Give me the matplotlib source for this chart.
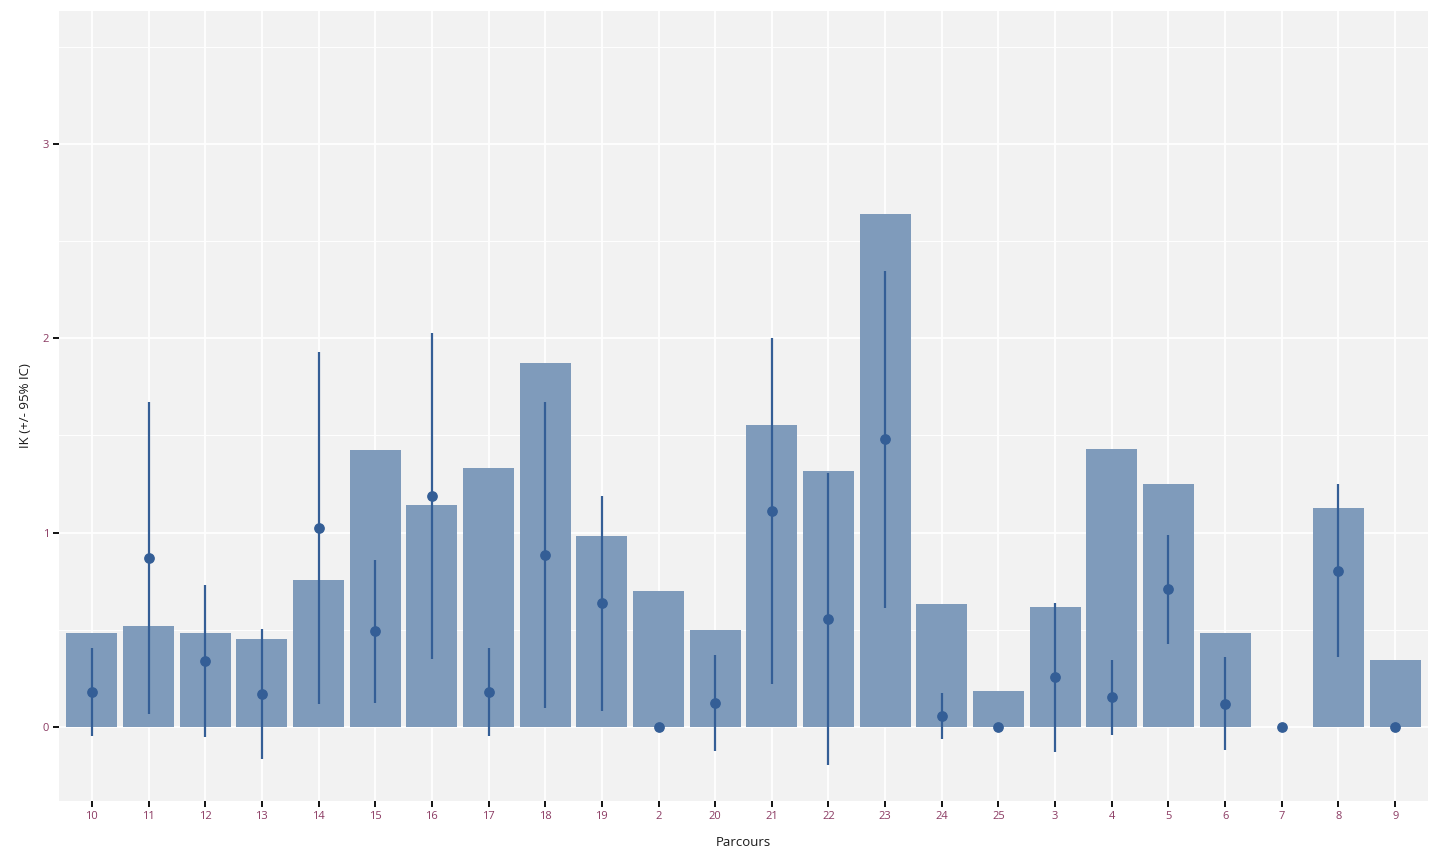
import matplotlib
matplotlib.use("Agg")
import matplotlib.pyplot as plt
import numpy as np
from matplotlib.ticker import MultipleLocator

categories = ["10", "11", "12", "13", "14", "15", "16", "17", "18", "19", "2", "20",
              "21", "22", "23", "24", "25", "3", "4", "5", "6", "7", "8", "9"]
bar_values = [0.484, 0.519, 0.484, 0.453, 0.755, 1.425, 1.142, 1.333, 1.873, 0.983, 0.698, 0.498,
              1.554, 1.318, 2.637, 0.633, 0.184, 0.617, 1.431, 1.251, 0.483, 0.0, 1.127, 0.344]
ik_values = [0.18, 0.871, 0.341, 0.171, 1.024, 0.496, 1.189, 0.18, 0.885, 0.640, 0.0, 0.124,
             1.112, 0.556, 1.483, 0.058, 0.0, 0.258, 0.155, 0.710, 0.117, 0.0, 0.804, 0.0]
ci_low = [-0.045, 0.068, -0.053, -0.163, 0.120, 0.125, 0.352, -0.045, 0.099, 0.084, 0.0, -0.124,
          0.223, -0.195, 0.614, -0.062, 0.0, -0.129, -0.041, 0.428, -0.119, 0.0, 0.359, 0.0]
ci_high = [0.405, 1.672, 0.730, 0.503, 1.930, 0.859, 2.027, 0.405, 1.672, 1.189, 0.0, 0.369,
           2.0, 1.307, 2.348, 0.174, 0.0, 0.637, 0.344, 0.988, 0.359, 0.0, 1.251, 0.0]

plt.rcParams['font.family'] = ['Open Sans', 'DejaVu Sans']

fig = plt.figure(figsize=(14.4, 8.64), dpi=100)
ax = fig.add_axes([59/1440, 1 - 801/864, (1428-59)/1440, (801-11)/864])
ax.set_facecolor('#F2F2F2')

x = np.arange(len(categories))
ax.bar(x, bar_values, width=0.9, color='#7F9BBB', zorder=2)
ax.vlines(x, ci_low, ci_high, color='#345E96', linewidth=1.6, zorder=3)
ax.scatter(x, ik_values, s=45, color='#345E96', zorder=4)

ax.set_xlim(-0.58, len(categories) - 0.42)
ax.set_ylim(-0.381, 3.684)
ax.set_xticks(x)
ax.set_xticklabels(categories)
ax.yaxis.set_major_locator(MultipleLocator(1))
ax.yaxis.set_minor_locator(MultipleLocator(0.5))

ax.grid(True, which='major', color='white', linewidth=1.3, zorder=0)
ax.grid(True, which='minor', axis='y', color='white', linewidth=0.7, zorder=0)
ax.set_axisbelow(True)
for s in ax.spines.values():
    s.set_visible(False)

ax.tick_params(axis='both', which='major', length=4, width=1.3, color='black',
               labelcolor='#8B3A62', labelsize=8, pad=3)
ax.tick_params(axis='y', which='minor', length=0)

ax.set_xlabel('Parcours', fontsize=9.5, color='#1A1A1A', labelpad=10)
ax.set_ylabel('IK (+/- 95% IC)', fontsize=9.5, color='#1A1A1A', labelpad=8)

fig.savefig('out.png', dpi=100)
